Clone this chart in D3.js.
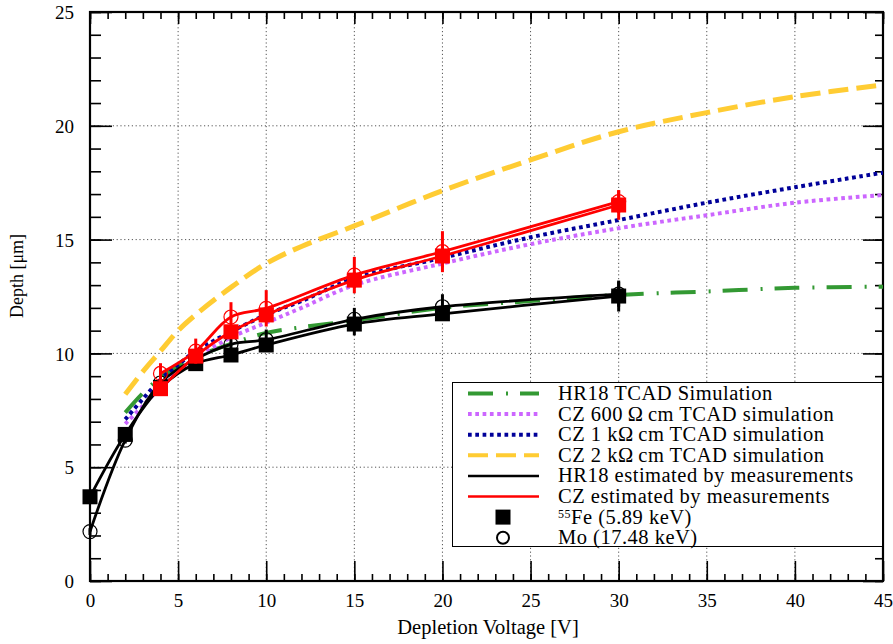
<!DOCTYPE html>
<html><head><meta charset="utf-8">
<script src="https://cdn.jsdelivr.net/npm/d3@7"></script>
<style>
html,body{margin:0;padding:0;background:#fff;}
svg{display:block;font-family:"Liberation Serif","Times New Roman",serif;}
</style></head>
<body><svg id="c" width="893" height="644"></svg>
<script>
// ---- data ----
const simV      = [2, 3, 4, 5, 6, 8, 10, 12, 15, 20, 25, 30, 35, 40, 45];
const simHR18   = [7.4, 8.25, 8.95, 9.45, 9.85, 10.42, 10.9, 11.15, 11.45, 12.0, 12.3, 12.57, 12.72, 12.88, 12.93];
const simCZ600  = [6.9, 7.7, 8.5, 9.2, 9.8, 10.7, 11.35, 12.0, 13.0, 13.95, 14.8, 15.5, 16.07, 16.62, 16.96];
const simCZ1k   = [7.1, 8.0, 8.85, 9.5, 10.1, 10.95, 11.7, 12.3, 13.3, 14.2, 15.1, 15.86, 16.62, 17.3, 17.94];
const simCZ2k   = [8.2, 9.2, 10.1, 11.0, 11.7, 12.9, 13.95, 14.7, 15.6, 17.15, 18.5, 19.74, 20.58, 21.28, 21.8];

const hrV       = [0, 2, 4, 6, 8, 10, 15, 20, 30];
const hrFe      = [3.7, 6.44, 8.5, 9.55, 9.93, 10.37, 11.29, 11.74, 12.52];
const hrFeErr   = [0.15, 0.15, 0.2, 0.3, 0.2, 0.3, 0.5, 0.3, 0.68];
const hrMo      = [2.17, 6.19, 8.7, 9.75, 10.4, 10.6, 11.5, 12.05, 12.6];
const hrMoErr   = [0.15, 0.15, 0.2, 0.3, 0.3, 0.45, 0.5, 0.55, 0.55];

const czV       = [4, 6, 8, 10, 15, 20, 30];
const czFe      = [8.45, 9.88, 10.95, 11.69, 13.22, 14.28, 16.52];
const czFeErr   = [0.3, 0.3, 0.3, 0.3, 0.35, 0.5, 0.65];
const czMo      = [9.12, 10.1, 11.6, 11.98, 13.44, 14.47, 16.67];
const czMoErr   = [0.45, 0.55, 0.65, 0.8, 0.8, 0.9, 0.5];

const xTicks = [0, 5, 10, 15, 20, 25, 30, 35, 40, 45];
const yTicks = [0, 5, 10, 15, 20, 25];
const legendLabels = ["HR18 TCAD Simulation", "CZ 600\u2009\u03A9\u2009cm TCAD simulation",
  "CZ 1 k\u03A9\u2009cm TCAD simulation", "CZ 2 k\u03A9\u2009cm TCAD simulation",
  "HR18 estimated by measurements", "CZ estimated by measurements", "Fe (5.89 keV)", "Mo (17.48 keV)"];

// ---- layout ----
const svg = d3.select("#c");
const L = 90, R = 883, T = 12, B = 581;
const x = d3.scaleLinear().domain([0, 45]).range([L, R]);
const y = d3.scaleLinear().domain([0, 25]).range([B, T]);

// grid
const grid = svg.append("g").attr("stroke", "#555").attr("stroke-width", 1).attr("stroke-dasharray", "1.2,2.6");
xTicks.slice(1, -1).forEach(v => grid.append("line").attr("x1", x(v)).attr("x2", x(v)).attr("y1", T).attr("y2", B));
yTicks.slice(1, -1).forEach(v => grid.append("line").attr("y1", y(v)).attr("y2", y(v)).attr("x1", L).attr("x2", R));

// axes
const xMinor = d3.range(0, 46, 1), yMinor = d3.range(0, 26, 1);
const axB = svg.append("g").attr("transform", `translate(0,${B})`)
  .call(d3.axisBottom(x).tickValues(xTicks).tickSize(-20).tickPadding(26).tickFormat(d3.format("d")));
const axBm = svg.append("g").attr("transform", `translate(0,${B})`)
  .call(d3.axisBottom(x).tickValues(xMinor).tickSize(-7).tickFormat(""));
const axT = svg.append("g").attr("transform", `translate(0,${T})`)
  .call(d3.axisTop(x).tickValues(xTicks).tickSize(-12).tickFormat(""));
const axTm = svg.append("g").attr("transform", `translate(0,${T})`)
  .call(d3.axisTop(x).tickValues(xMinor).tickSize(-7).tickFormat(""));
const axL = svg.append("g").attr("transform", `translate(${L},0)`)
  .call(d3.axisLeft(y).tickValues(yTicks).tickSize(-22).tickPadding(36).tickFormat(d3.format("d")));
const axLm = svg.append("g").attr("transform", `translate(${L},0)`)
  .call(d3.axisLeft(y).tickValues(yMinor).tickSize(-11).tickFormat(""));
const axR = svg.append("g").attr("transform", `translate(${R},0)`)
  .call(d3.axisRight(y).tickValues(yTicks).tickSize(-20).tickFormat(""));
const axRm = svg.append("g").attr("transform", `translate(${R},0)`)
  .call(d3.axisRight(y).tickValues(yMinor).tickSize(-8).tickFormat(""));
[axB, axBm, axT, axTm, axL, axLm, axR, axRm].forEach(a => {
  a.attr("font-family", "Liberation Serif");
  a.select(".domain").remove();
  a.selectAll("line").attr("stroke", "#000").attr("stroke-width", 1.6);
  a.selectAll("text").attr("font-family", "Liberation Serif").attr("font-size", 19).attr("fill", "#000");
});
axB.selectAll("text").attr("dy", 0);
axL.selectAll("text").attr("dy", "0.35em").attr("text-anchor", "end").attr("x", -16);
svg.append("rect").attr("x", L).attr("y", T).attr("width", R - L).attr("height", B - T)
  .attr("fill", "none").attr("stroke", "#000").attr("stroke-width", 2.2);

// axis titles
svg.append("text").attr("x", 488).attr("y", 634).attr("text-anchor", "middle")
  .attr("font-size", 20.5).text("Depletion Voltage [V]");
svg.append("text").attr("transform", "translate(23,276) rotate(-90)").attr("text-anchor", "middle")
  .attr("font-size", 18).text("Depth [\u03BCm]");

// clip
svg.append("clipPath").attr("id", "clip").append("rect").attr("x", L).attr("y", T).attr("width", R - L).attr("height", B - T);
const plot = svg.append("g").attr("clip-path", "url(#clip)");
const marks = svg.append("g");

const sim = [
  {vals: simHR18, color: "#339933", w: 4, dash: "25,13,2,12"},
  {vals: simCZ600, color: "#cc66ff", w: 4, dash: "3.7,3.6"},
  {vals: simCZ1k, color: "#000099", w: 4, dash: "3.7,3.6"},
  {vals: simCZ2k, color: "#ffcc33", w: 5, dash: "20,8"}
];
const smooth = d3.line().x(d => x(d[0])).y(d => y(d[1])).curve(d3.curveCatmullRom.alpha(0.5));
sim.forEach(s => plot.append("path").datum(simV.map((v, i) => [v, s.vals[i]]))
  .attr("d", smooth).attr("fill", "none").attr("stroke", s.color)
  .attr("stroke-width", s.w).attr("stroke-dasharray", s.dash));

// measurement lines
const meas = [
  {xs: hrV, ys: hrFe, color: "#000"}, {xs: hrV, ys: hrMo, color: "#000"},
  {xs: czV, ys: czFe, color: "#ff0000"}, {xs: czV, ys: czMo, color: "#ff0000"}
];
meas.forEach(m => marks.append("path").datum(m.xs.map((v, i) => [v, m.ys[i]]))
  .attr("d", smooth).attr("fill", "none").attr("stroke", m.color).attr("stroke-width", 2.8));

// markers + error bars
function errBars(xs, ys, es, color) {
  xs.forEach((v, i) => marks.append("line").attr("x1", x(v)).attr("x2", x(v))
    .attr("y1", y(ys[i] - es[i])).attr("y2", y(ys[i] + es[i])).attr("stroke", color).attr("stroke-width", 3));
}
function squares(xs, ys, color) {
  xs.forEach((v, i) => marks.append("rect").attr("x", x(v) - 7.5).attr("y", y(ys[i]) - 7.5)
    .attr("width", 15).attr("height", 15).attr("fill", color));
}
function circles(xs, ys, color) {
  xs.forEach((v, i) => marks.append("circle").attr("cx", x(v)).attr("cy", y(ys[i])).attr("r", 7)
    .attr("fill", "none").attr("stroke", color).attr("stroke-width", 1.2));
}
errBars(hrV, hrFe, hrFeErr, "#000"); errBars(hrV, hrMo, hrMoErr, "#000");
squares(hrV, hrFe, "#000"); circles(hrV, hrMo, "#000");
errBars(czV, czFe, czFeErr, "#ff0000"); errBars(czV, czMo, czMoErr, "#ff0000");
circles(czV, czMo, "#ff0000"); squares(czV, czFe, "#ff0000");

// legend
const lg = svg.append("g");
lg.append("rect").attr("x", 452.5).attr("y", 382.5).attr("width", 430).attr("height", 164)
  .attr("fill", "#fff").attr("stroke", "#000").attr("stroke-width", 1);
const rowY = i => 393.5 + i * 20.6;
const legStyles = [
  {color: "#339933", w: 4, dash: "25,13,2,12"}, {color: "#cc66ff", w: 4, dash: "3.7,3.6"},
  {color: "#000099", w: 4, dash: "3.7,3.6"}, {color: "#ffcc33", w: 4, dash: "20,8"},
  {color: "#000", w: 2.5, dash: null}, {color: "#ff0000", w: 2.5, dash: null}
];
legStyles.forEach((s, i) => lg.append("line").attr("x1", 468).attr("x2", 539).attr("y1", rowY(i)).attr("y2", rowY(i))
  .attr("stroke", s.color).attr("stroke-width", s.w).attr("stroke-dasharray", s.dash));
lg.append("rect").attr("x", 495.5).attr("y", rowY(6) - 7.5).attr("width", 15).attr("height", 15).attr("fill", "#000");
lg.append("circle").attr("cx", 503).attr("cy", rowY(7)).attr("r", 6).attr("fill", "none").attr("stroke", "#000").attr("stroke-width", 2);
legendLabels.forEach((t, i) => {
  const tx = lg.append("text").attr("x", 558).attr("y", rowY(i) + 6.5).attr("font-size", 20.5)
    .attr("letter-spacing", 0.5);
  if (i === 6) {
    tx.append("tspan").attr("font-size", 12).attr("dy", -6).text("55");
    tx.append("tspan").attr("dy", 6).text(t);
  } else tx.text(t);
});
</script></body></html>
